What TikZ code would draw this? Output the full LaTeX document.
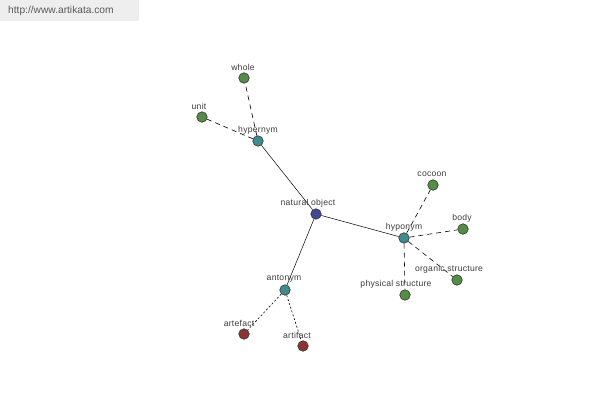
\documentclass[tikz,border=0pt]{standalone}
\usepackage{fontspec}
\setmainfont{Liberation Sans}
\newfontfamily\labfont[LetterSpace=3]{Liberation Sans}
\definecolor{ngreen}{RGB}{84,140,72}
\definecolor{nteal}{RGB}{64,140,140}
\definecolor{nblue}{RGB}{64,72,150}
\definecolor{nred}{RGB}{140,52,52}
\definecolor{lbl}{RGB}{60,60,60}
\definecolor{hdr}{RGB}{238,238,238}
\tikzset{
  x=1pt,y=-1pt,
  dot/.style={circle,draw=black!80,line width=0.6pt,inner sep=0pt,minimum size=10.5pt},
  gdot/.style={dot,fill=ngreen},
  tdot/.style={dot,fill=nteal},
  bdot/.style={dot,fill=nblue},
  rdot/.style={dot,fill=nred},
  lab/.style={font=\labfont\fontsize{8.6}{9}\selectfont,text=lbl,inner sep=0pt},
  solidedge/.style={draw=black,line width=0.5pt},
  dashedge/.style={draw=black,line width=0.6pt,dash pattern=on 5pt off 4pt},
  dotedge/.style={draw=black,line width=0.6pt,dash pattern=on 2pt off 2pt},
}
\begin{document}
\begin{tikzpicture}
\useasboundingbox (0,0) rectangle (600,400);
\fill[white] (0,0) rectangle (600,400);
\fill[hdr] (0,0) rectangle (139,21);
\node[font=\fontsize{10.2}{11}\selectfont,text=black!65,anchor=west,inner sep=0pt] (url) at (8,11) {http://www.artikata.com};

% nodes
\node[bdot] (nat) at (316,214) {};
\node[tdot] (hyper) at (258,141) {};
\node[gdot] (whole) at (244,78) {};
\node[gdot] (unit) at (202,117) {};
\node[tdot] (hypo) at (404,238) {};
\node[gdot] (cocoon) at (433,185) {};
\node[gdot] (body) at (463,229) {};
\node[gdot] (organic) at (457,280) {};
\node[gdot] (phys) at (405,295) {};
\node[tdot] (anto) at (285,290) {};
\node[rdot] (artefact) at (244,334) {};
\node[rdot] (artifact) at (303,346) {};

% edges
\path[solidedge] (nat) -- (hyper);
\path[solidedge] (nat) -- (hypo);
\path[solidedge] (nat) -- (anto);
\path[dashedge] (hyper) -- (whole);
\path[dashedge] (hyper) -- (unit);
\path[dashedge] (hypo) -- (cocoon);
\path[dashedge] (hypo) -- (body);
\path[dashedge] (hypo) -- (organic);
\path[dashedge] (hypo) -- (phys);
\path[dotedge] (anto) -- (artefact);
\path[dotedge] (anto) -- (artifact);

% labels
\node[lab] (lnat) at (308,203) {natural object};
\node[lab] (lhyper) at (258,130) {hypernym};
\node[lab] (lwhole) at (243,67) {whole};
\node[lab] (lunit) at (199,106) {unit};
\node[lab] (lhypo) at (404,227) {hyponym};
\node[lab] (lcocoon) at (432,174) {cocoon};
\node[lab] (lbody) at (462,218) {body};
\node[lab] (lorg) at (449,269) {organic structure};
\node[lab] (lphys) at (396,284) {physical structure};
\node[lab] (lanto) at (284,279) {antonym};
\node[lab] (lartefact) at (239,323) {artefact};
\node[lab] (lartifact) at (297,335) {artifact};
\end{tikzpicture}
\end{document}
